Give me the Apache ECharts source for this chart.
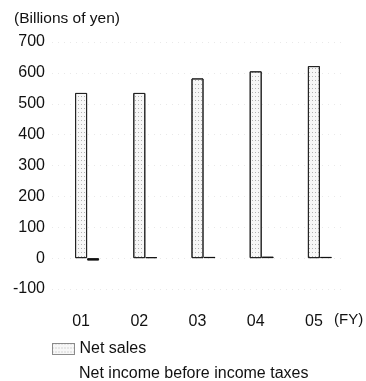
<!DOCTYPE html>
<html>
<head>
<meta charset="utf-8">
<script src="https://cdn.jsdelivr.net/npm/echarts@6/dist/echarts.min.js"></script>
<style>
html,body{margin:0;padding:0;background:#fff;}
#c{width:366px;height:381px;}
</style>
</head>
<body>
<div id="c"></div>
<script>
const categories = ['01', '02', '03', '04', '05'];
const netSales = [535, 535, 582, 605, 622];
const netIncome = [-8, 3, 4, 5, 4];
const yTicks = [-100, 0, 100, 200, 300, 400, 500, 600, 700];

const FONT = '"Liberation Sans", Arial, sans-serif';
const legendText = {fontFamily: FONT, fontSize: 16, color: '#111'};
const chart = echarts.init(document.getElementById('c'), null, {renderer: 'canvas'});
chart.setOption({
  animation: false,
  backgroundColor: '#fff',
  title: {
    text: '(Billions of yen)',
    left: 14, top: 11, padding: 0,
    textStyle: {fontFamily: FONT, fontSize: 15.5, fontWeight: 'normal', color: '#111'}
  },
  legend: [
    {
      left: 52, top: 341, padding: 0,
      itemWidth: 22, itemHeight: 11, icon: 'rect',
      textStyle: legendText,
      data: [{name: 'Net sales', itemStyle: {borderColor: '#666', borderWidth: 1, borderType: 'dotted'}}]
    },
    {
      left: 52, top: 366, padding: 0,
      itemWidth: 22, itemHeight: 11, icon: 'rect',
      textStyle: legendText,
      data: [{name: 'Net income before income taxes', itemStyle: {color: 'rgba(0,0,0,0)', borderWidth: 0, decal: 'none'}}]
    }
  ],
  grid: {left: 52, right: 23, top: 42, bottom: 92, containLabel: false},
  xAxis: {
    type: 'category',
    data: categories,
    axisLine: {show: false},
    axisTick: {show: false},
    axisLabel: {margin: 25, fontFamily: FONT, fontSize: 16, color: '#111'}
  },
  yAxis: {
    type: 'value',
    min: yTicks[0], max: yTicks[yTicks.length - 1], interval: 100,
    axisLine: {show: false},
    axisTick: {show: false},
    axisLabel: {margin: 7, fontFamily: FONT, fontSize: 16, color: '#111'},
    splitLine: {show: true, lineStyle: {color: '#e9e9e9', type: [1, 5], width: 1}}
  },
  graphic: [{
    type: 'text', left: 334, top: 312,
    style: {text: '(FY)', font: '15px ' + FONT, fill: '#111'}
  }],
  series: [
    {name: '_spacer', type: 'bar', data: [], barWidth: 12, barGap: '0%'},
    {
      name: 'Net sales', type: 'bar', data: netSales, barWidth: 12, barGap: '0%',
      itemStyle: {
        color: '#f7f7f7', borderColor: '#222', borderWidth: 1,
        decal: {symbol: 'rect', symbolSize: 1, color: 'rgba(0,0,0,0.28)', dashArrayX: [1, 2], dashArrayY: [1, 3], rotation: 0}
      }
    },
    {
      name: 'Net income before income taxes', type: 'bar', data: netIncome, barWidth: 12, barGap: '0%',
      itemStyle: {color: '#111', borderColor: '#111', borderWidth: 1}
    }
  ]
});
</script>
</body>
</html>
